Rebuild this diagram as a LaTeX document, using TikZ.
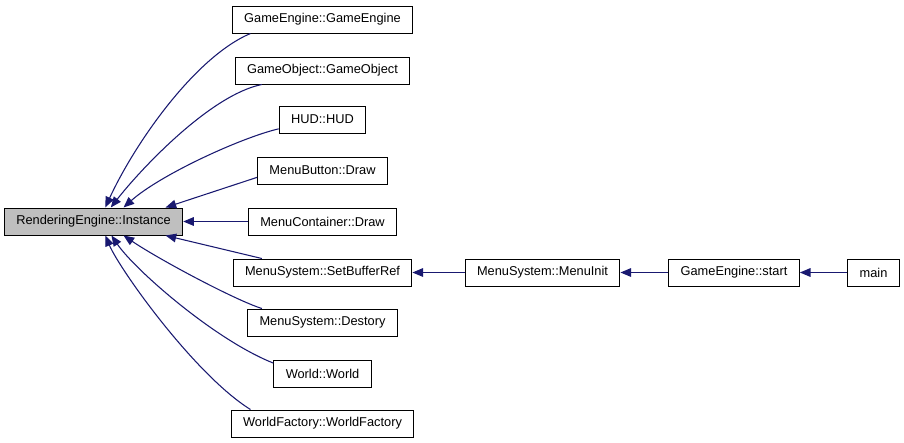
\documentclass[tikz,border=0pt]{standalone}
\usepackage{fontspec}
\setmainfont{Liberation Sans}
\usetikzlibrary{arrows.meta}
\usepackage{xcolor}
\definecolor{midnight}{RGB}{25,25,112}
\definecolor{calleegray}{RGB}{191,191,191}

\begin{document}
\begin{tikzpicture}[
        x=0.75pt, y=-0.75pt,
        func/.style={draw=black, line width=0.75pt, fill=white, inner xsep=9pt,
                     inner ysep=0pt, minimum height=20.25pt,
                     font=\fontsize{9.6}{11}\selectfont},
        callee/.style={func, fill=calleegray},
        callline/.style={draw=midnight, line width=0.8pt,
                         -{Triangle[length=8pt,width=6.5pt]}}
      ]
      \useasboundingbox (0,0) rectangle (904,443);

      % Called function
      \node[callee] (RE) at (93.5,221.5) {RenderingEngine::Instance};

      % Direct callers
      \node[func] (GE)  at (322.5, 19.5) {GameEngine::GameEngine};
      \node[func] (GO)  at (322.5, 70.5) {GameObject::GameObject};
      \node[func] (HUD) at (322.5,119.5) {HUD::HUD};
      \node[func] (MB)  at (322.5,170.5) {MenuButton::Draw};
      \node[func] (MC)  at (322.5,221.5) {MenuContainer::Draw};
      \node[func] (SBR) at (322.5,272.5) {MenuSystem::SetBufferRef};
      \node[func] (DES) at (322.5,322.5) {MenuSystem::Destory};
      \node[func] (WO)  at (322.5,373.5) {World::World};
      \node[func] (WF)  at (322.5,423.5) {WorldFactory::WorldFactory};

      % Call chain to SetBufferRef
      \node[func] (MI)   at (542.5,272.5) {MenuSystem::MenuInit};
      \node[func] (GS)   at (734,272.5)   {GameEngine::start};
      \node[func] (MAIN) at (873.5,272.5) {main};

      % Callers above
      \draw[callline] (GE.191)  .. controls (195,57) and (135,143) .. (RE.50);
      \draw[callline] (GO.193)  .. controls (210,95) and (140,170) .. (RE.39);
      \draw[callline] (HUD.192) .. controls (240,138) and (160,175) .. (RE.25);
      \draw[callline] (MB.186)  -- (RE.11.5);
      \draw[callline] (MC)      -- (RE);

      % Callers below
      \draw[callline] (SBR.167) -- (RE.-11.5);
      \draw[callline] (DES.167) .. controls (235,300) and (160,260) .. (RE.-25);
      \draw[callline] (WO.168)  .. controls (215,340) and (135,270) .. (RE.-38);
      \draw[callline] (WF.169)  .. controls (195,375) and (120,270) .. (RE.-50);

      % Chain
      \draw[callline] (MI)   -- (SBR);
      \draw[callline] (GS)   -- (MI);
      \draw[callline] (MAIN) -- (GS);

    \end{tikzpicture}
\end{document}
